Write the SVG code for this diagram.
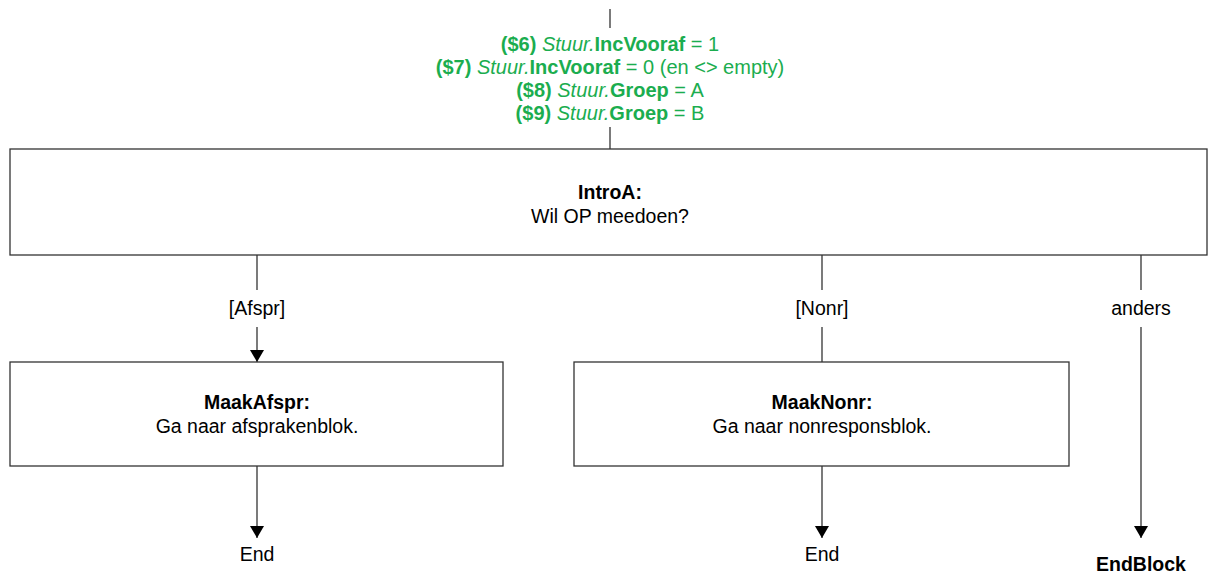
<svg xmlns="http://www.w3.org/2000/svg" width="1212" height="579" viewBox="0 0 1212 579">
<style>
text{font-family:"Liberation Sans",Arial,sans-serif;font-size:19.5px;fill:#000;text-anchor:middle}
.g{fill:#1bad4f;font-size:20px}
.b{font-weight:bold}
.i{font-style:italic}
.box{fill:#fff;stroke:#333;stroke-width:1.3}
.ln{stroke:#333;stroke-width:1.3;fill:none}
</style>
<defs>
<marker id="ah" markerWidth="12" markerHeight="14" refX="12" refY="7" orient="auto" markerUnits="userSpaceOnUse" viewBox="0 0 12 14">
<path d="M0,0 L12,7 L0,14 Z" fill="#000"/>
</marker>
</defs>
<rect width="1212" height="579" fill="#fff"/>
<g id="connectors">
<line class="ln" x1="610" y1="9" x2="610" y2="28"/>
<line class="ln" x1="610" y1="127" x2="610" y2="149"/>
<line class="ln" x1="257" y1="255" x2="257" y2="290"/>
<line class="ln" x1="257" y1="327" x2="257" y2="362" marker-end="url(#ah)"/>
<line class="ln" x1="822" y1="255" x2="822" y2="290"/>
<line class="ln" x1="822" y1="327" x2="822" y2="362"/>
<line class="ln" x1="1141" y1="255" x2="1141" y2="290"/>
<line class="ln" x1="1141" y1="327" x2="1141" y2="538" marker-end="url(#ah)"/>
<line class="ln" x1="257" y1="466" x2="257" y2="538" marker-end="url(#ah)"/>
<line class="ln" x1="822" y1="466" x2="822" y2="538" marker-end="url(#ah)"/>
<text x="257" y="315">[Afspr]</text>
<text x="822" y="315">[Nonr]</text>
<text x="1141" y="315">anders</text>
</g>
<g id="conditions">
<text class="g" x="610" y="51"><tspan class="b">($6)</tspan> <tspan class="i">Stuur.</tspan><tspan class="b">IncVooraf</tspan> = 1</text>
<text class="g" x="610" y="74"><tspan class="b">($7)</tspan> <tspan class="i">Stuur.</tspan><tspan class="b">IncVooraf</tspan> = 0 (en &lt;&gt; empty)</text>
<text class="g" x="610" y="97"><tspan class="b">($8)</tspan> <tspan class="i">Stuur.</tspan><tspan class="b">Groep</tspan> = A</text>
<text class="g" x="610" y="120"><tspan class="b">($9)</tspan> <tspan class="i">Stuur.</tspan><tspan class="b">Groep</tspan> = B</text>
</g>
<g id="IntroA">
<rect class="box" x="10" y="149" width="1197" height="106"/>
<text class="b" x="610" y="199">IntroA:</text>
<text x="610" y="223">Wil OP meedoen?</text>
</g>
<g id="MaakAfspr">
<rect class="box" x="10" y="362" width="493" height="104"/>
<text class="b" x="257" y="409">MaakAfspr:</text>
<text x="257" y="433">Ga naar afsprakenblok.</text>
</g>
<g id="MaakNonr">
<rect class="box" x="574" y="362" width="495" height="104"/>
<text class="b" x="822" y="409">MaakNonr:</text>
<text x="822" y="433">Ga naar nonresponsblok.</text>
</g>
<g id="End1"><text x="257" y="561">End</text></g>
<g id="End2"><text x="822" y="561">End</text></g>
<g id="EndBlock"><text class="b" x="1141" y="571">EndBlock</text></g>
</svg>
